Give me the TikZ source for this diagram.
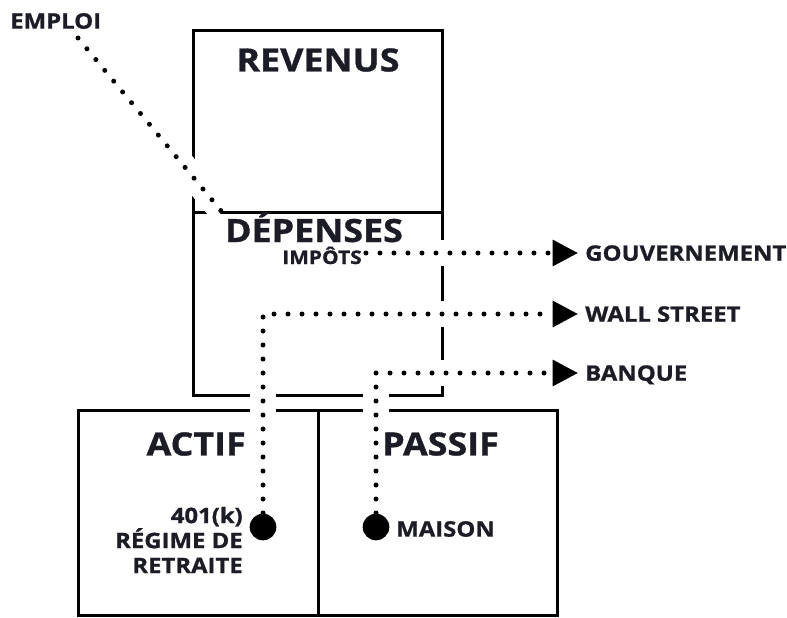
\documentclass[tikz,border=0pt]{standalone}
\usepackage{fontspec}
\setmainfont{Open Sans}[FakeStretch=1.12, BoldFeatures={FakeBold=1}]
\usetikzlibrary{arrows.meta}
\definecolor{ink}{RGB}{28,28,38}
\pgfdeclarelayer{boxes}
\pgfdeclarelayer{links}
\pgfsetlayers{boxes,links,main}

\begin{document}
\begin{tikzpicture}[x=0.75pt, y=-0.75pt,
    box/.style={draw=black, line width=2.25pt},
    heading/.style={font=\bfseries\fontsize{24}{28}\selectfont, text=ink, inner sep=0pt},
    smalltext/.style={font=\bfseries\fontsize{16}{18.75}\selectfont, text=ink, inner sep=0pt},
    target/.style={smalltext, anchor=west, inner xsep=5.25pt, text depth=0pt},
    dotline/.style={line width=3.75pt, line cap=round, dash pattern=on 0pt off 10.5pt,
        preaction={draw=white, line width=19pt, solid, line cap=butt}},
    arrowhead/.style={-{Triangle[length=19pt, width=19pt]}},
    bigdot/.style={circle, fill=black, inner sep=0pt, minimum size=20pt}
]
    \useasboundingbox (0,0) rectangle (787,617);

    % Boxes
    \begin{pgfonlayer}{boxes}
        \draw[box] (193,31) rectangle (442,395);
        \draw[box] (193,212) -- (442,212);
        \draw[box] (78,410) rectangle (318,615);
        \draw[box] (318,410) rectangle (557,615);
    \end{pgfonlayer}

    % Box titles
    \node[heading] (revenus) at (318,60) {REVENUS};
    \node[heading, anchor=base] (depenses) at (314,242) {DÉPENSES};
    \node[heading, anchor=east] (actif) at (246,444) {ACTIF};
    \node[heading, anchor=west] (passif) at (382,444) {PASSIF};

    % Labels
    \node[smalltext, anchor=west] (emploi) at (10,21) {EMPLOI};
    \node[smalltext, font=\bfseries\fontsize{14}{17}\selectfont, anchor=base, inner xsep=3pt] (impots) at (322,264) {IMPÔTS};
    \node[target] (gouv) at (578,253) {GOUVERNEMENT};
    \node[target] (wallst) at (578,314) {WALL STREET};
    \node[target] (banque) at (578,373) {BANQUE};
    \node[smalltext, anchor=east, align=right] (retraite) at (243,540) {401(k)\\RÉGIME DE\\RETRAITE};
    \node[smalltext, anchor=west] (maison) at (396,529) {MAISON};

    % Dots
    \node[bigdot] (dotretraite) at (263,527) {};
    \node[bigdot] (dotmaison) at (376,527) {};
    \coordinate (emploistart) at (78,38);
    \coordinate (emploiend) at (222,212);

    % Dotted links
    \begin{pgfonlayer}{links}
        \draw[dotline] (emploistart) -- (emploiend);
        \draw[dotline, arrowhead] (impots.east |- gouv.west) -- (gouv.west);
        \draw[dotline, arrowhead] (dotretraite.center) |- (wallst.west);
        \draw[dotline, arrowhead] (dotmaison.center) |- (banque.west);
    \end{pgfonlayer}
\end{tikzpicture}
\end{document}
